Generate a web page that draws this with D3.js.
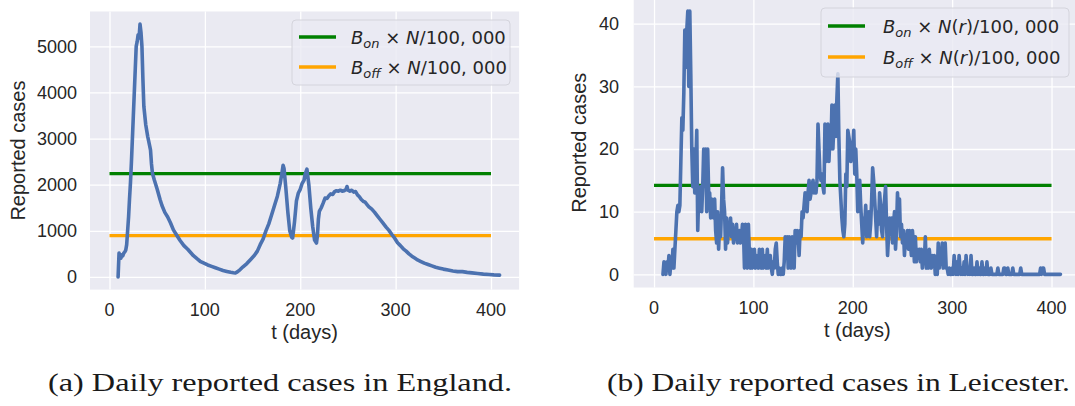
<!DOCTYPE html>
<html><head><meta charset="utf-8">
<script src="https://cdn.jsdelivr.net/npm/d3@7"></script>
<style>body{margin:0;background:#fff}svg{display:block}</style>
</head><body>
<svg id="c" width="1075" height="406"></svg>
<script>
// ---------- data ----------
const englandDays = [9,10,11,12,13,14,15,16,17,18,19,20,21,22,23,24,25,26,27,28,29,30,31,32,33,34,35,36,37,38,40,42,43,44,45,47,50,53,55,58,61,64,67,70,74,78,82,85,88,92,95,99,103,107,111,115,119,123,127,130,132,134,137,140,144,148,152,155,158,161,164,167,170,173,176,179,181,182,183,185,187,189,191,192,194,196,198,200,202,204,205,207,209,211,213,215,217,218,219,220,222,224,226,228,230,232,234,236,238,240,242,244,246,248,249,250,252,254,256,258,260,262,264,266,268,270,272,275,278,281,284,287,290,293,296,299,302,305,308,311,314,317,320,323,326,330,334,338,342,346,350,355,360,365,370,375,380,386,392,398,403,409];
const englandCases = [0,520,450,410,480,460,520,540,580,700,1000,1300,1700,2050,2500,3000,3500,4000,4500,5000,5100,5250,5180,5480,5300,5000,4300,3700,3500,3300,3050,2850,2750,2450,2250,2100,1900,1680,1550,1400,1300,1170,1020,920,790,680,600,530,460,390,340,300,260,230,200,170,140,120,100,90,85,110,160,220,290,380,470,560,700,820,1000,1150,1350,1550,1750,2030,2280,2420,2350,1900,1400,1000,860,844,1200,1650,1820,1900,2030,2100,2220,2338,2000,1500,1100,800,736,900,1250,1420,1500,1600,1710,1700,1760,1800,1790,1850,1870,1860,1880,1860,1870,1900,1960,1880,1860,1880,1840,1850,1780,1740,1680,1640,1620,1570,1520,1470,1400,1320,1240,1160,1080,1010,920,840,740,680,610,560,500,450,410,370,340,300,270,240,210,190,170,150,130,115,115,100,88,75,62,52,45,40];

const leicesterFirstDay = 9;
const leicesterCases = [
  0,2,1,0,2,1,3,0,2,1,
  4,1,4,7,10,11,10,11,18,25,
  23,29,39,33,39,42,30,42,32,20,
  14,20,13,17,23,7,13,12,14,10,
  14,20,15,20,10,20,13,13,9,12,
  11,9,12,7,5,10,4,8,6,11,
  17,12,10,4,9,5,8,7,9,6,
  8,5,7,6,8,5,6,7,5,6,
  8,7,1,8,6,1,8,3,1,4,
  1,2,4,1,3,2,1,4,2,1,
  4,1,2,3,1,4,1,2,3,1,
  0,2,1,4,5,2,0,1,0,0,
  1,0,2,6,3,6,1,6,4,1,
  6,3,1,7,5,7,6,3,7,6,
  10,9,11,13,12,10,13,15,12,13,
  14,15,13,14,13,15,24,20,16,15,
  16,14,13,24,18,21,24,18,22,20,
  27,20,24,27,22,28,32,22,15,12,
  9,7,6,8,16,14,23,22,21,18,
  21,20,23,16,20,16,10,14,15,11,
  8,5,9,8,11,6,7,10,6,8,
  12,17,15,12,9,6,10,8,13,11,
  7,6,10,12,14,8,3,6,9,7,
  9,5,8,10,4,7,13,9,12,6,
  8,5,7,3,6,5,7,4,7,5,
  3,7,5,2,6,2,4,3,4,2,
  4,1,3,2,6,1,3,1,4,2,
  1,3,2,3,0,2,0,5,1,3,
  2,5,1,4,5,1,1,0,1,0,
  0,1,0,3,1,0,2,0,3,1,
  0,1,0,2,0,3,1,0,1,0,
  3,0,0,1,0,0,2,0,1,0,
  0,2,0,0,1,0,2,0,0,0,
  1,0,0,0,0,0,0,1,0,0,
  0,0,0,1,1,0,0,1,0,0,
  0,0,1,0,0,0,0,0,0,0,
  1,0,0,0,0,0,0,0,0,0,
  0,0,0,0,0,0,0,0,0,0,
  1,0,1,1,0,0,0,0,0,0,
  0,0,0,0,0,0,0,0,0,0,
  0
];
const leicesterDays = leicesterCases.map((_, i) => leicesterFirstDay + i);

const xTicks = [0, 100, 200, 300, 400];
const yTicksEngland = [0, 1000, 2000, 3000, 4000, 5000];
const yTicksLeicester = [0, 10, 20, 30, 40];
const thresholdSpan = [0, 400];
const thresholdsEngland = [2240, 896];
const thresholdsLeicester = [14.2, 5.68];
const thresholdColors = ["#008000", "#FFA500"];
const legendEngland = [
  [["B","i"],["on","s"],[" × ",""],["N","i"],["/100, 000",""]],
  [["B","i"],["off","s"],[" × ",""],["N","i"],["/100, 000",""]]
];
const legendLeicester = [
  [["B","i"],["on","s"],[" × ",""],["N","i"],["(",""],["r","i"],[")/100, 000",""]],
  [["B","i"],["off","s"],[" × ",""],["N","i"],["(",""],["r","i"],[")/100, 000",""]]
];
const captions = ["(a) Daily reported cases in England.", "(b) Daily reported cases in Leicester."];
const xLabel = "t (days)";
const yLabel = "Reported cases";

// ---------- drawing ----------
const svg = d3.select("#c");
svg.append("rect").attr("width",1075).attr("height",406).attr("fill","#fff");
const FONT = "'Liberation Sans', Arial, sans-serif";
const INK = "#262626";

function panel(cfg) {
  const x = d3.scaleLinear().domain(cfg.xDomain).range(cfg.xRange);
  const y = d3.scaleLinear().domain(cfg.yDomain).range(cfg.yRange);
  const g = svg.append("g");
  g.append("rect").attr("x", cfg.xRange[0]).attr("y", cfg.yRange[1])
    .attr("width", cfg.xRange[1]-cfg.xRange[0]).attr("height", cfg.yRange[0]-cfg.yRange[1])
    .attr("fill", "#EAEAF2");
  const gx = g.append("g").attr("transform", `translate(0,${cfg.yRange[0]})`)
    .call(d3.axisBottom(x).tickValues(xTicks).tickSize(-(cfg.yRange[0]-cfg.yRange[1])).tickFormat(""));
  const gy = g.append("g").attr("transform", `translate(${cfg.xRange[0]},0)`)
    .call(d3.axisLeft(y).tickValues(cfg.yTicks).tickSize(-(cfg.xRange[1]-cfg.xRange[0])).tickFormat(""));
  [gx, gy].forEach(a => { a.select(".domain").remove(); a.selectAll("line").attr("stroke","#fff").attr("stroke-width",1.3); });
  g.selectAll(".xt").data(xTicks).join("text")
    .attr("x", d => x(d)).attr("y", cfg.xTickY).attr("text-anchor","middle")
    .attr("font-family", FONT).attr("font-size", 18).attr("fill", INK).text(d => d);
  g.selectAll(".yt").data(cfg.yTicks).join("text")
    .attr("x", cfg.yTickX).attr("y", d => y(d)).attr("dy","0.36em").attr("text-anchor","end")
    .attr("font-family", FONT).attr("font-size", 18).attr("fill", INK).text(d => d);
  g.append("text").attr("x", (cfg.xRange[0]+cfg.xRange[1])/2).attr("y", cfg.xLabelY)
    .attr("text-anchor","middle").attr("font-family", FONT).attr("font-size", 20).attr("fill", INK).text(xLabel);
  g.append("text").attr("transform", `translate(${cfg.yLabelX},${(cfg.yRange[0]+cfg.yRange[1])/2}) rotate(-90)`)
    .attr("text-anchor","middle").attr("font-family", FONT).attr("font-size", 20).attr("fill", INK).text(yLabel);
  cfg.thresholds.forEach((v, i) => {
    g.append("path").attr("d", d3.line()([[x(thresholdSpan[0]), y(v)], [x(thresholdSpan[1]), y(v)]]))
      .attr("stroke", thresholdColors[i]).attr("stroke-width", 3.3).attr("fill","none");
  });
  const pts = cfg.days.map((d, i) => [d, cfg.values[i]]);
  g.append("path").datum(pts)
    .attr("d", d3.line().x(d => x(d[0])).y(d => y(d[1])))
    .attr("fill","none").attr("stroke","#4C72B0").attr("stroke-width",3.6)
    .attr("stroke-linejoin","round").attr("stroke-linecap","round");
  const L = cfg.legend;
  g.append("rect").attr("x", L.x).attr("y", L.y).attr("width", L.w).attr("height", L.h).attr("rx", 4)
    .attr("fill", "#EAEAF2").attr("fill-opacity", 0.8).attr("stroke", "#d4d4dc").attr("stroke-width", 1);
  cfg.legendLabels.forEach((parts, i) => {
    const ly = L.y + L.row0 + i * L.rowGap;
    g.append("line").attr("x1", L.x + 7).attr("x2", L.x + 44).attr("y1", ly).attr("y2", ly)
      .attr("stroke", thresholdColors[i]).attr("stroke-width", 3.3);
    const t = g.append("text").attr("x", L.x + L.textDx).attr("y", ly + 6.5)
      .attr("font-family", "'DejaVu Sans', sans-serif").attr("font-size", 18).attr("fill", INK);
    let shift = 0;
    parts.forEach(([s, st]) => {
      const ts = t.append("tspan").text(s).attr("xml:space","preserve");
      if (st === "i" || st === "s") ts.attr("font-style","italic");
      if (st === "s") { ts.attr("font-size", 13).attr("dy", 4 - shift); shift = 4; }
      else if (shift) { ts.attr("dy", -shift); shift = 0; }
    });
  });
}

panel({
  xDomain: [-20.45, 429.45], xRange: [90.0, 519.1],
  yDomain: [-274, 5754], yRange: [289.6, 11.5],
  yTicks: yTicksEngland, days: englandDays, values: englandCases,
  thresholds: thresholdsEngland, legendLabels: legendEngland,
  xTickY: 316, yTickX: 77, xLabelY: 339, yLabelX: 25,
  legend: { x: 292, y: 20, w: 218, h: 65, row0: 17, rowGap: 30, textDx: 59 }
});
panel({
  xDomain: [-20.45, 429.45], xRange: [633.7, 1080.8],
  yDomain: [-2.1, 44.1], yRange: [287.5, -2.0],
  yTicks: yTicksLeicester, days: leicesterDays, values: leicesterCases,
  thresholds: thresholdsLeicester, legendLabels: legendLeicester,
  xTickY: 314, yTickX: 619, xLabelY: 337, yLabelX: 586,
  legend: { x: 821, y: 8, w: 248, h: 69, row0: 18, rowGap: 31, textDx: 62 }
});

const capX = [[48, 512], [607, 1070]];
captions.forEach((c, i) => {
  svg.append("text").attr("x", capX[i][0]).attr("y", 391)
    .attr("font-family", "'Liberation Serif', Tinos, 'Times New Roman', Times, serif").attr("font-size", 26)
    .attr("fill", "#1a1a1a").attr("textLength", capX[i][1]-capX[i][0]).attr("lengthAdjust","spacingAndGlyphs")
    .text(c);
});
</script>
</body></html>
